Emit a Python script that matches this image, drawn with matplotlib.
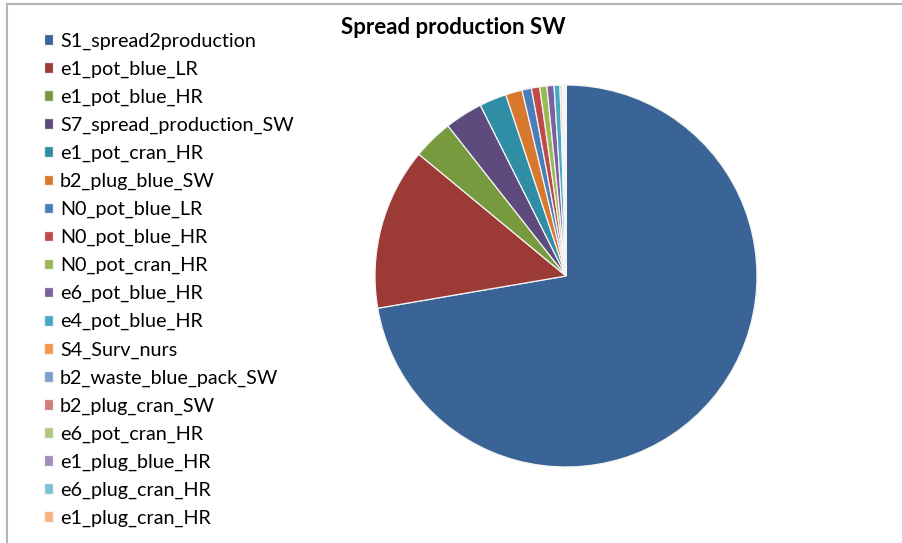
import matplotlib
matplotlib.use("Agg")
import matplotlib.pyplot as plt
from matplotlib.patches import Rectangle

# ── Data (shares of total, %) ────────────────────────────────────────────────
LABELS = [
    "S1_spread2production", "e1_pot_blue_LR", "e1_pot_blue_HR",
    "S7_spread_production_SW", "e1_pot_cran_HR", "b2_plug_blue_SW",
    "N0_pot_blue_LR", "N0_pot_blue_HR", "N0_pot_cran_HR",
    "e6_pot_blue_HR", "e4_pot_blue_HR", "S4_Surv_nurs",
    "b2_waste_blue_pack_SW", "b2_plug_cran_SW", "e6_pot_cran_HR",
    "e1_plug_blue_HR", "e6_plug_cran_HR", "e1_plug_cran_HR",
]
VALUES = [72.3, 13.7, 3.4, 3.2, 2.3, 1.4, 0.8, 0.7, 0.6, 0.6, 0.5,
          0.15, 0.10, 0.08, 0.06, 0.05, 0.04, 0.02]
COLORS = [
    "#3A6496", "#9C3A36", "#789A3E", "#5E4B7D", "#2F8DA6", "#D8782D",
    "#4A7EBB", "#BE4B48", "#98B954", "#7D60A0", "#46AAC5", "#F69545",
    "#7F9FCF", "#D07D7B", "#AFCA7F", "#A18DBB", "#7CC2D7", "#F9B17D",
]
TITLE = "Spread production SW"

W, H = 903, 543
plt.rcParams["font.family"] = ["Lato", "DejaVu Sans"]

fig = plt.figure(figsize=(W / 100, H / 100), dpi=100)

# chart-area frame (top and left edges visible in the screenshot)
fig.patches.append(Rectangle((7 / W, -0.05), 1.2, 1 - 4 / H + 0.05,
                             transform=fig.transFigure, fill=False,
                             edgecolor="#b4b4b4", linewidth=1.5))

# pie: centre (566, 276) px, radius 191 px
cx, cy, r = 566, 276, 191
ax = fig.add_axes([(cx - r) / W, (H - cy - r) / H, 2 * r / W, 2 * r / H])
wedges, _ = ax.pie(VALUES, colors=COLORS, startangle=90, counterclock=False,
                   radius=1.0,
                   wedgeprops={"edgecolor": "#f4f4f4", "linewidth": 0.9})
ax.set_xlim(-1, 1)
ax.set_ylim(-1, 1)
ax.set_aspect("equal")
ax.axis("off")

fig.text(453 / W, 1 - 28 / H, TITLE, ha="center", va="center",
         fontsize=16, fontweight="bold")

fig.legend(wedges, LABELS, loc="upper left",
           bbox_to_anchor=(44 / W, 1 - 32.5 / H), frameon=False,
           fontsize=14.2, handlelength=0.45, handleheight=0.45,
           handletextpad=0.36, labelspacing=0.548, borderpad=0,
           borderaxespad=0)

fig.savefig("out.png", dpi=100)
